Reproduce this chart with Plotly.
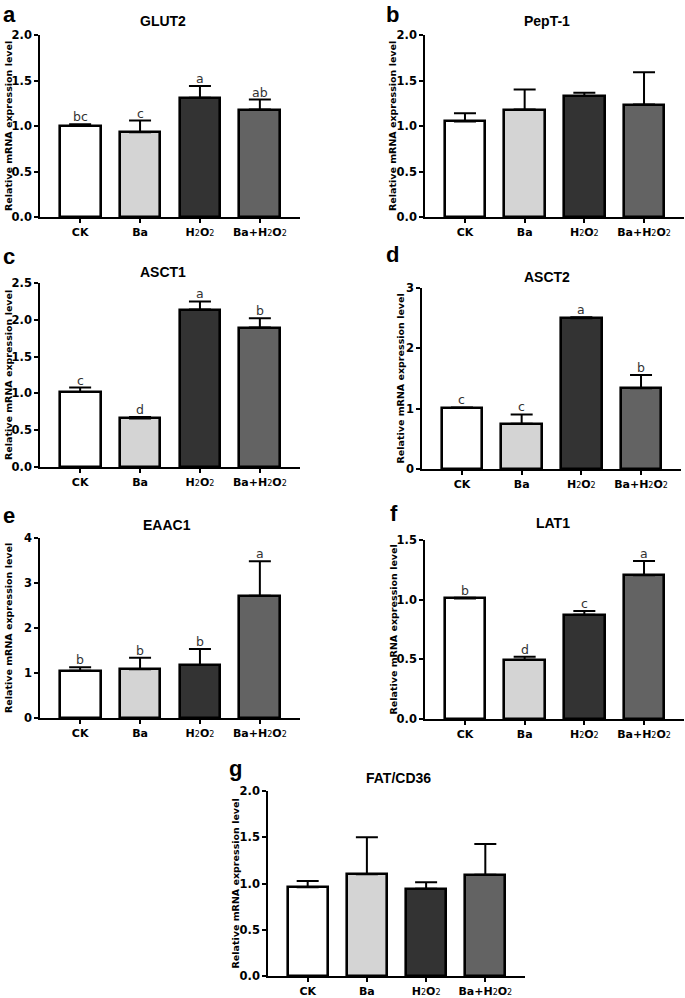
import plotly.graph_objects as go

W, H = 685, 998

categories = ["CK", "Ba", "H2O2", "Ba+H2O2"]
SUB2 = '<span style="font-size:8px;font-weight:normal">2</span>'
tick_labels = ["CK", "Ba", "H" + SUB2 + "O" + SUB2, "Ba+H" + SUB2 + "O" + SUB2]
bar_colors = ["#ffffff", "#d4d4d4", "#333333", "#636363"]

genes = ["GLUT2", "PepT-1", "ASCT1", "ASCT2", "EAAC1", "LAT1", "FAT/CD36"]
panel_letters = ["a", "b", "c", "d", "e", "f", "g"]

glut2_mean = [1.00, 0.93, 1.31, 1.18]
glut2_err = [0.02, 0.13, 0.13, 0.11]
glut2_sig = ["bc", "c", "a", "ab"]

pept1_mean = [1.05, 1.18, 1.33, 1.235]
pept1_err = [0.09, 0.22, 0.035, 0.355]
pept1_sig = ["", "", "", ""]

asct1_mean = [1.02, 0.66, 2.14, 1.895]
asct1_err = [0.06, 0.02, 0.11, 0.125]
asct1_sig = ["c", "d", "a", "b"]

asct2_mean = [1.01, 0.75, 2.497, 1.337]
asct2_err = [0.01, 0.155, 0.02, 0.22]
asct2_sig = ["c", "c", "a", "b"]

eaac1_mean = [1.05, 1.085, 1.18, 2.716]
eaac1_err = [0.08, 0.255, 0.355, 0.77]
eaac1_sig = ["b", "b", "b", "a"]

lat1_mean = [1.01, 0.497, 0.874, 1.204]
lat1_err = [0.007, 0.025, 0.031, 0.12]
lat1_sig = ["b", "d", "c", "a"]

fat_mean = [0.959, 1.099, 0.944, 1.095]
fat_err = [0.068, 0.40, 0.069, 0.332]
fat_sig = ["", "", "", ""]

y_max = [2.0, 2.0, 2.5, 3, 4, 1.5, 2.0]
y_dtick = [0.5, 0.5, 0.5, 1, 1, 0.5, 0.5]
y_fmt = [".1f", ".1f", ".1f", "d", "d", ".1f", ".1f"]

means = [glut2_mean, pept1_mean, asct1_mean, asct2_mean, eaac1_mean, lat1_mean, fat_mean]
errs = [glut2_err, pept1_err, asct1_err, asct2_err, eaac1_err, lat1_err, fat_err]
sigs = [glut2_sig, pept1_sig, asct1_sig, asct2_sig, eaac1_sig, lat1_sig, fat_sig]

geom = [
    dict(x0=40, x1=300, yt=35, yb=217, tx=163, ty=21, lx=1, ly=14, yx=8),
    dict(x0=425, x1=684, yt=35, yb=217, tx=547, ty=21, lx=384, ly=14, yx=392),
    dict(x0=40, x1=300, yt=283, yb=467, tx=163, ty=272, lx=1, ly=256, yx=8),
    dict(x0=422, x1=681, yt=288, yb=469, tx=547, ty=277, lx=384, ly=255, yx=400),
    dict(x0=40, x1=300, yt=538, yb=718, tx=167, ty=525, lx=1, ly=515, yx=8),
    dict(x0=425, x1=684, yt=540, yb=719, tx=553, ty=523, lx=388, ly=513, yx=393),
    dict(x0=268, x1=525, yt=791, yb=976, tx=398, ty=778, lx=227, ly=768, yx=235),
]

def px(x):
    return x / W

def py(y):
    return 1 - y / H

fig = go.Figure()
annotations = []
layout_axes = {}
xs = [0, 1, 2, 3]

for i in range(7):
    g = geom[i]
    sfx = "" if i == 0 else str(i + 1)
    xa, ya = "x" + sfx, "y" + sfx
    fig.add_trace(go.Bar(
        x=xs, y=means[i], xaxis=xa, yaxis=ya, width=0.68,
        marker=dict(color=bar_colors, line=dict(color="black", width=2.6)),
        error_y=dict(type="data", array=errs[i], arrayminus=[0] * 4, symmetric=False,
                     color="black", thickness=2, width=11),
        showlegend=False, hoverinfo="skip",
    ))
    layout_axes["xaxis" + sfx] = dict(
        domain=[px(g["x0"]), px(g["x1"])], anchor=ya, range=[-0.67, 3.67],
        tickvals=xs, ticktext=tick_labels, showline=True, linecolor="black", linewidth=1.5,
        ticks="outside", ticklen=4, tickwidth=1.5, tickcolor="black", showgrid=False,
        zeroline=False, fixedrange=True, automargin=False,
        tickfont=dict(family="DejaVu Sans", size=11, color="black", weight="bold"),
    )
    layout_axes["yaxis" + sfx] = dict(
        domain=[py(g["yb"]), py(g["yt"])], anchor=xa, range=[0, y_max[i]],
        dtick=y_dtick[i], tick0=0, tickformat=y_fmt[i], showline=True, linecolor="black",
        linewidth=1.5, ticks="outside", ticklen=4, tickwidth=1.5, tickcolor="black",
        showgrid=False, zeroline=False, fixedrange=True, automargin=False,
        tickfont=dict(family="DejaVu Sans", size=11.5, color="black", weight="bold"),
    )
    annotations.append(dict(
        x=px(g["tx"]), y=py(g["ty"]), xref="paper", yref="paper", text=genes[i],
        showarrow=False, xanchor="center", yanchor="middle",
        font=dict(family="Liberation Sans", size=14, color="black", weight="bold"),
    ))
    annotations.append(dict(
        x=px(g["lx"]), y=py(g["ly"]), xref="paper", yref="paper", text=panel_letters[i],
        showarrow=False, xanchor="left", yanchor="middle",
        font=dict(family="Liberation Sans", size=22, color="black", weight="bold"),
    ))
    annotations.append(dict(
        x=px(g["yx"]), y=py((g["yt"] + g["yb"]) / 2), xref="paper", yref="paper",
        text="Relative mRNA expression level", textangle=-90, showarrow=False,
        xanchor="center", yanchor="middle",
        font=dict(family="DejaVu Sans", size=9.5, color="black", weight="bold"),
    ))
    for j in range(4):
        if sigs[i][j]:
            annotations.append(dict(
                x=xs[j], y=means[i][j] + errs[i][j], xref=xa, yref=ya, text=sigs[i][j],
                showarrow=False, xanchor="center", yanchor="bottom", yshift=-2,
                font=dict(family="DejaVu Sans", size=12.5, color="#333333"),
            ))

fig.update_layout(
    width=W, height=H, autosize=False,
    margin=dict(l=0, r=0, t=0, b=0, pad=0, autoexpand=False),
    paper_bgcolor="white", plot_bgcolor="white",
    annotations=annotations, bargap=0, **layout_axes,
)

fig.write_html("out.html", config={"displayModeBar": False, "responsive": False},
               post_script="document.body.style.margin='0';document.body.style.overflow='hidden';")
